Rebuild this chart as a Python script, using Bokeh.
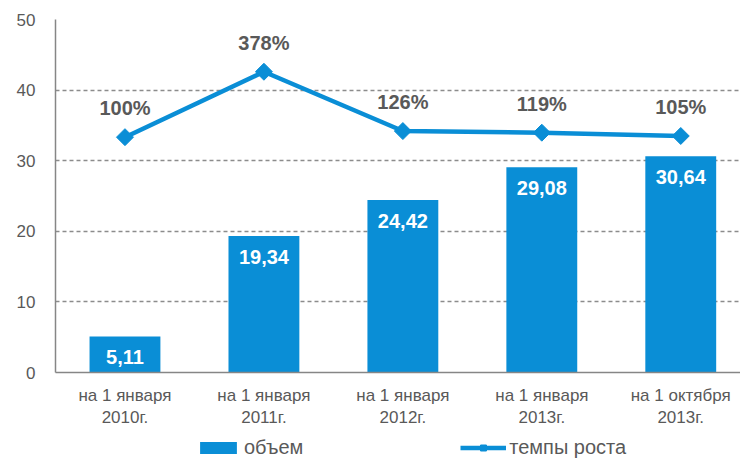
from bokeh.plotting import figure
from bokeh.models import ColumnDataSource, Range1d, Legend, LegendItem, FixedTicker
from bokeh.layouts import column
from bokeh.embed import file_html
from bokeh.resources import INLINE
from bokeh.core.properties import value
import math

categories = ["на 1 января\n2010г.", "на 1 января\n2011г.", "на 1 января\n2012г.",
              "на 1 января\n2013г.", "на 1 октября\n2013г."]
volume = [5.11, 19.34, 24.42, 29.08, 30.64]
growth = [100, 378, 126, 119, 105]
y_ticks = [0, 10, 20, 30, 40, 50]
series_names = ["объем", "темпы роста"]

BLUE = "#0a8ed6"
GRAY = "#595959"
FONT = "Liberation Sans"

xs = list(range(len(categories)))
src = ColumnDataSource(dict(
    x=xs, vol=volume, gr=growth,
    vol_lbl=[f"{v:.2f}".replace(".", ",") for v in volume],
    gr_lbl=[f"{g}%" for g in growth],
))

p = figure(width=740, height=436, output_backend="svg", toolbar_location=None,
           x_range=Range1d(-0.5, 4.43), y_range=Range1d(0, 50),
           min_border_left=55, min_border_right=0, min_border_top=19, min_border_bottom=64)
p.extra_y_ranges = {"pct": Range1d(-900, 600)}
p.outline_line_color = None
p.background_fill_color = "white"

# axes
p.yaxis.ticker = FixedTicker(ticks=y_ticks)
p.yaxis.major_tick_line_color = None
p.yaxis.minor_tick_line_color = None
p.yaxis.axis_line_color = "#868686"
p.yaxis.axis_line_width = 1.5
p.yaxis.major_label_text_font = FONT
p.yaxis.major_label_text_font_size = "17px"
p.yaxis.major_label_text_color = GRAY
p.yaxis.major_label_standoff = 14

p.xaxis.ticker = FixedTicker(ticks=xs)
p.xaxis.major_label_overrides = {i: c for i, c in zip(xs, categories)}
p.xaxis.major_tick_line_color = None
p.xaxis.minor_tick_line_color = None
p.xaxis.axis_line_color = "#868686"
p.xaxis.axis_line_width = 1.5
p.xaxis.major_label_text_font = FONT
p.xaxis.major_label_text_font_size = "17px"
p.xaxis.major_label_text_color = GRAY
p.xaxis.major_label_standoff = 7

p.xgrid.grid_line_color = None
p.ygrid.ticker = FixedTicker(ticks=y_ticks[1:])
p.ygrid.grid_line_color = "#8c8c8c"
p.ygrid.grid_line_dash = "4 3"
p.ygrid.grid_line_width = 1.3

p.vbar(x="x", top="vol", width=0.51, source=src, fill_color=BLUE, line_color=None)
p.text(x="x", y="vol", text="vol_lbl", source=src, text_color="white",
       text_font=value(FONT), text_font_style="bold", text_font_size="20px",
       text_align="center", text_baseline="middle", y_offset=21)

p.line(x="x", y="gr", source=src, y_range_name="pct", line_color=BLUE, line_width=4.5)
p.scatter(x="x", y="gr", source=src, y_range_name="pct", marker="square", angle=math.pi / 4,
          size=12, fill_color=BLUE, line_color=BLUE)
p.text(x="x", y="gr", text="gr_lbl", source=src, y_range_name="pct", text_color=GRAY,
       text_font=value(FONT), text_font_style="bold", text_font_size="20px",
       text_align="center", text_baseline="middle", y_offset=-29)

# legend strip (its own renderers sit outside the visible range; only the legend shows)
lg = figure(width=740, height=23, output_backend="svg", toolbar_location=None,
            x_range=Range1d(0, 1), y_range=Range1d(0, 1),
            x_axis_location=None, y_axis_location=None,
            min_border_left=0, min_border_right=0, min_border_top=0, min_border_bottom=0)
lg.grid.visible = False
lg.outline_line_color = None
hidden = ColumnDataSource(dict(x=[-5, -4], y=[-5, -4]))
r_bar = lg.vbar(x="x", top="y", width=0.5, source=hidden, fill_color=BLUE, line_color=None)
r_ln = lg.line(x="x", y="y", source=hidden, line_color=BLUE, line_width=4.5)
r_mk = lg.scatter(x="x", y="y", source=hidden, marker="square", angle=math.pi / 4,
                  size=12, fill_color=BLUE, line_color=BLUE)
legend = Legend(items=[LegendItem(label=series_names[0], renderers=[r_bar]),
                       LegendItem(label=series_names[1], renderers=[r_ln, r_mk])],
                orientation="horizontal", location=(140, 0),
                label_text_font=FONT, label_text_font_size="20px", label_text_color=GRAY,
                glyph_width=46, glyph_height=15, spacing=157, padding=0, margin=0,
                border_line_color=None, background_fill_alpha=0, label_standoff=3)
lg.add_layout(legend)

open("out.html", "w").write(file_html(column(p, lg), INLINE))
